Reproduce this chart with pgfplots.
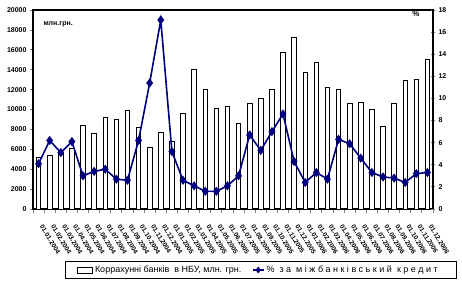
\documentclass[border=0pt]{standalone}
\usepackage{fontspec}
\setmainfont{Liberation Sans}
\usepackage{pgfplots}
\usepackage{pgfplotstable}
\pgfplotsset{compat=1.18}
\definecolor{navy}{RGB}{0,0,128}
\pgfplotstableread{
x bank rate
0 5200 4.1
1 5400 6.2
2 5700 5.1
3 6100 6.1
4 8400 3.0
5 7600 3.4
6 9200 3.6
7 9000 2.7
8 9900 2.6
9 8200 6.2
10 6200 11.4
11 7700 17.1
12 6800 5.2
13 9600 2.6
14 14000 2.1
15 12000 1.6
16 10100 1.6
17 10300 2.1
18 8600 3.0
19 10600 6.7
20 11100 5.3
21 12000 7.0
22 15700 8.6
23 17200 4.3
24 13700 2.4
25 14700 3.3
26 12200 2.7
27 12000 6.3
28 10600 5.9
29 10700 4.6
30 10000 3.3
31 8300 2.9
32 10600 2.8
33 12900 2.4
34 13000 3.2
35 15000 3.3
}\data
\begin{document}
\begin{tikzpicture}
\useasboundingbox (-33pt,-73pt) rectangle (429pt,209pt);
\begin{axis}[
  at={(0pt,0pt)}, anchor=south west,
  scale only axis, width=400pt, height=199pt,
  xmin=-0.5, xmax=35.5, ymin=0, ymax=20000,
  ytick={0,2000,...,20000},
  xtick={0,...,35},
  xticklabels={01.01.2004,01.02.2004,01.03.2004,01.04.2004,01.05.2004,01.06.2004,01.07.2004,01.08.2004,01.09.2004,01.10.2004,01.11.2004,01.12.2004,01.01.2005,01.02.2005,01.03.2005,01.04.2005,01.05.2005,01.06.2005,01.07.2005,01.08.2005,01.09.2005,01.10.2005,01.11.2005,01.12.2005,01.01.2006,01.02.2006,01.03.2006,01.04.2006,01.05.2006,01.06.2006,01.07.2006,01.08.2006,01.09.2006,01.10.2006,01.11.2006,01.12.2006},
  major x tick style={draw=none},
  minor xtick={-0.5,0.5,...,35.5},
  minor x tick style={line width=0.8pt},
  xtick pos=bottom, ytick pos=left,
  tick align=outside,
  major tick length=3pt, minor tick length=3.5pt,
  y tick style={line width=0.8pt},
  x tick label style={xshift=5pt, yshift=-12pt, rotate=-58, anchor=north west, font=\bfseries\fontsize{6.5}{7}\selectfont, inner sep=0pt},
  y tick label style={font=\bfseries\fontsize{7}{8}\selectfont, /pgf/number format/1000 sep={}},
  /pgf/number format/assume math mode=true,
  scaled y ticks=false,
  axis line style={line width=1.2pt},
  legend columns=2,
  legend style={at={(axis description cs:0.08,-0.2613)}, anchor=north west, draw=black, line width=0.8pt, font=\fontsize{9}{10}\selectfont, inner xsep=12pt, inner ysep=2.5pt, /tikz/every even column/.append style={column sep=8pt}},
  legend cell align=left,
]
\addplot[ybar, bar width=4.5pt, fill=white, draw=black, line width=0.8pt,
  legend image code/.code={\draw[fill=white, draw=black, line width=0.6pt] (0pt,-3pt) rectangle (15pt,3pt);}]
  table[x=x,y=bank]{\data};
\addlegendentry{\makebox[147pt][l]{Коррахунні банків \ в НБУ, млн. грн.}}
\addlegendimage{legend image code/.code={\draw[color=navy, line width=1.5pt] (0pt,0pt) -- (11pt,0pt); \draw[color=navy, mark=diamond*, mark size=2.8pt, mark options={fill=navy}] plot coordinates {(5.5pt,0pt)};}}
\addlegendentry{\makebox[176pt][l]{\addfontfeatures{LetterSpace=28}\% за міжбанківський кредит}}
\node[anchor=west, font=\bfseries\fontsize{7}{8}\selectfont] at (axis description cs:0.0175,0.93) {млн.грн.};
\node[font=\bfseries\fontsize{8}{9}\selectfont] at (axis description cs:0.9575,0.98) {\%};
\end{axis}
\begin{axis}[
  at={(0pt,0pt)}, anchor=south west,
  scale only axis, width=400pt, height=199pt,
  xmin=-0.5, xmax=35.5, ymin=0, ymax=18,
  ytick={0,2,...,18},
  axis y line*=right, axis x line=none,
  tick align=center, major tick length=4pt,
  y tick style={line width=0.8pt},
  y tick label style={font=\bfseries\fontsize{7}{8}\selectfont},
  /pgf/number format/assume math mode=true,
  axis line style={line width=1.2pt},
]
\addplot[color=navy, line width=1.6pt, mark=diamond*, mark size=3.3pt] table[x=x,y=rate]{\data};
\end{axis}
\end{tikzpicture}
\end{document}
